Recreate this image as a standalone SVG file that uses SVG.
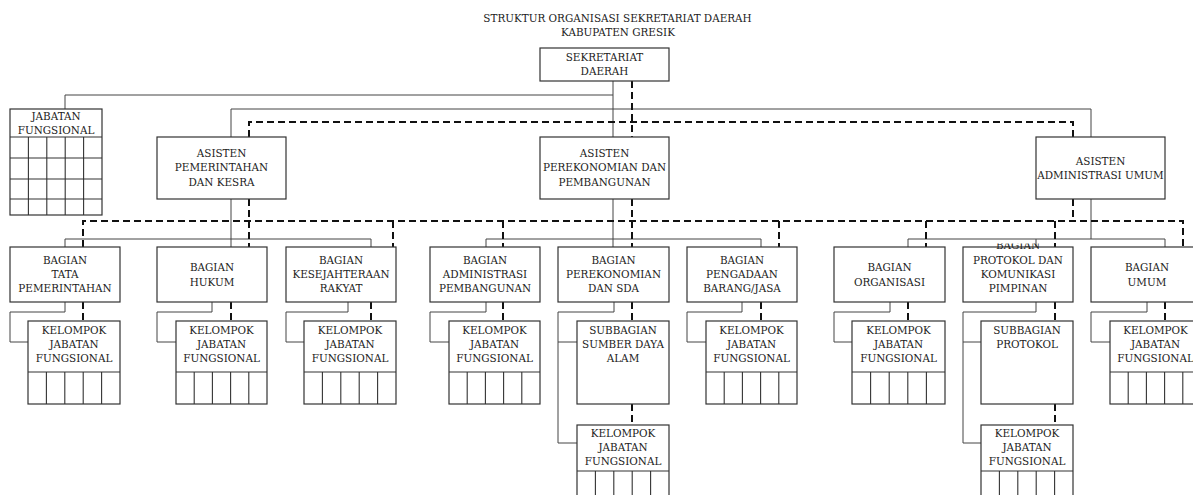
<svg xmlns="http://www.w3.org/2000/svg" width="1193" height="495" viewBox="0 0 1193 495">
<style>
.box{fill:#fff;stroke:#333;stroke-width:1.2}
.grid{fill:none;stroke:#333;stroke-width:1.1}
.ln{fill:none;stroke:#444;stroke-width:1}
.dash{fill:none;stroke:#111;stroke-width:2;stroke-dasharray:7 4}
text{font-family:"DejaVu Serif","Liberation Serif",serif;font-size:10.4px;fill:#222;text-anchor:middle}
</style>
<defs>
<clipPath id="clipProt"><rect x="963" y="243.5" width="110" height="60"/></clipPath>
</defs>
<rect width="1193" height="495" fill="#fff"/>
<g id="title">
<text x="617.5" y="21.5">STRUKTUR ORGANISASI SEKRETARIAT DAERAH</text>
<text x="618" y="35.5">KABUPATEN GRESIK</text>
</g>
<g id="connectors">
<path class="ln" d="M613,81V137M65,109V95H613M231,137V109H1091V137"/>
<path class="ln" d="M231,199V247M65,247V239H371V247M613,199V247M486,247V239H761V247M1091,199V239M908,247V239H1165V247M1036,239V247"/>
<path class="ln" d="M65,302V312H10V342H28M212,302V312H157V342H176M348,302V312H286V342H304M486,302V312H430V342H449M614,302V312H558V443H577M558,342H577M742,302V312H687V342H706M890,302V312H834V342H852M1036,302V312H963V443H981M963,342H981M1147,302V312H1091V342H1110"/>
<path class="dash" d="M632,81V137M249,137V122H1073V137"/>
<path class="dash" d="M249,199V247M632,199V247M1073,199V221M83,247V221H1183V247M393,221V247M503,221V247M779,221V247M926,221V247M1055,221V247"/>
<path class="dash" d="M83,302V321M231,302V321M371,302V321M503,302V321M632,302V321M761,302V321M908,302V321M1055,302V321M1165,302V321M632,404V425M1055,404V425"/>
</g>
<g id="sekretariat-daerah">
<rect class="box" x="540" y="48" width="129" height="33"/>
<text x="604.5" y="61.4">SEKRETARIAT</text>
<text x="604.5" y="75.4">DAERAH</text>
</g>
<g id="jabatan-fungsional">
<rect class="box" x="10" y="109" width="92" height="106"/>
<path class="grid" d="M10,137H102M10,158H102M10,179H102M10,199H102M28.4,137V215M46.8,137V215M65.2,137V215M83.6,137V215"/>
<text x="56" y="120.4">JABATAN</text>
<text x="56" y="134.4">FUNGSIONAL</text>
</g>
<g id="asisten-pemerintahan">
<rect class="box" x="157" y="137" width="129" height="62"/>
<text x="221.5" y="157">ASISTEN</text>
<text x="221.5" y="171.4">PEMERINTAHAN</text>
<text x="221.5" y="185.7">DAN KESRA</text>
</g>
<g id="asisten-perekonomian">
<rect class="box" x="540" y="137" width="129" height="62"/>
<text x="604.5" y="157">ASISTEN</text>
<text x="604.5" y="171.4">PEREKONOMIAN DAN</text>
<text x="604.5" y="185.7">PEMBANGUNAN</text>
</g>
<g id="asisten-administrasi">
<rect class="box" x="1036" y="137" width="129" height="62"/>
<text x="1100.5" y="164.7">ASISTEN</text>
<text x="1100.5" y="178.7">ADMINISTRASI UMUM</text>
</g>
<g id="bagian-tata-pemerintahan">
<rect class="box" x="10" y="247" width="110" height="55"/>
<text x="65" y="263.7">BAGIAN</text>
<text x="65" y="278">TATA</text>
<text x="65" y="292.4">PEMERINTAHAN</text>
</g>
<g id="bagian-hukum">
<rect class="box" x="157" y="247" width="110" height="55"/>
<text x="212" y="271">BAGIAN</text>
<text x="212" y="285.7">HUKUM</text>
</g>
<g id="bagian-kesejahteraan">
<rect class="box" x="286" y="247" width="110" height="55"/>
<text x="341" y="263.7">BAGIAN</text>
<text x="341" y="278">KESEJAHTERAAN</text>
<text x="341" y="292.4">RAKYAT</text>
</g>
<g id="bagian-adm-pembangunan">
<rect class="box" x="430" y="247" width="110" height="55"/>
<text x="485" y="263.7">BAGIAN</text>
<text x="485" y="278">ADMINISTRASI</text>
<text x="485" y="292.4">PEMBANGUNAN</text>
</g>
<g id="bagian-perekonomian">
<rect class="box" x="558" y="247" width="111" height="55"/>
<text x="613.5" y="263.7">BAGIAN</text>
<text x="613.5" y="278">PEREKONOMIAN</text>
<text x="613.5" y="292.4">DAN SDA</text>
</g>
<g id="bagian-pengadaan">
<rect class="box" x="687" y="247" width="110" height="55"/>
<text x="742" y="263.7">BAGIAN</text>
<text x="742" y="278">PENGADAAN</text>
<text x="742" y="292.4">BARANG/JASA</text>
</g>
<g id="bagian-organisasi">
<rect class="box" x="834" y="247" width="111" height="55"/>
<text x="889.5" y="271">BAGIAN</text>
<text x="889.5" y="285.7">ORGANISASI</text>
</g>
<g id="bagian-protokol">
<rect class="box" x="963" y="247" width="110" height="55"/>
<text x="1018" y="249.4" clip-path="url(#clipProt)">BAGIAN</text>
<text x="1018" y="263.7">PROTOKOL DAN</text>
<text x="1018" y="278">KOMUNIKASI</text>
<text x="1018" y="292.4">PIMPINAN</text>
</g>
<g id="bagian-umum">
<rect class="box" x="1091" y="247" width="110" height="55"/>
<text x="1147" y="271">BAGIAN</text>
<text x="1147" y="285.7">UMUM</text>
</g>
<g id="kjf-tata">
<rect class="box" x="28" y="321" width="92" height="83"/>
<path class="grid" d="M28,372H120M46.4,372V404M64.8,372V404M83.2,372V404M101.6,372V404"/>
<text x="74" y="333.7">KELOMPOK</text><text x="74" y="348">JABATAN</text><text x="74" y="362.3">FUNGSIONAL</text>
</g>
<g id="kjf-hukum">
<rect class="box" x="176" y="321" width="91" height="83"/>
<path class="grid" d="M176,372H267M194.2,372V404M212.4,372V404M230.6,372V404M248.8,372V404"/>
<text x="221.5" y="333.7">KELOMPOK</text><text x="221.5" y="348">JABATAN</text><text x="221.5" y="362.3">FUNGSIONAL</text>
</g>
<g id="kjf-kesejahteraan">
<rect class="box" x="304" y="321" width="92" height="83"/>
<path class="grid" d="M304,372H396M322.4,372V404M340.8,372V404M359.2,372V404M377.6,372V404"/>
<text x="350" y="333.7">KELOMPOK</text><text x="350" y="348">JABATAN</text><text x="350" y="362.3">FUNGSIONAL</text>
</g>
<g id="kjf-adm-pembangunan">
<rect class="box" x="449" y="321" width="91" height="83"/>
<path class="grid" d="M449,372H540M467.2,372V404M485.4,372V404M503.6,372V404M521.8,372V404"/>
<text x="494.5" y="333.7">KELOMPOK</text><text x="494.5" y="348">JABATAN</text><text x="494.5" y="362.3">FUNGSIONAL</text>
</g>
<g id="subbagian-sda">
<rect class="box" x="577" y="321" width="92" height="83"/>
<text x="623" y="333.7">SUBBAGIAN</text><text x="623" y="348">SUMBER DAYA</text><text x="623" y="362.3">ALAM</text>
</g>
<g id="kjf-perekonomian">
<rect class="box" x="577" y="425" width="92" height="85"/>
<path class="grid" d="M577,471H669M595.4,471V510M613.8,471V510M632.2,471V510M650.6,471V510"/>
<text x="623" y="437">KELOMPOK</text><text x="623" y="451">JABATAN</text><text x="623" y="465.4">FUNGSIONAL</text>
</g>
<g id="kjf-pengadaan">
<rect class="box" x="706" y="321" width="91" height="83"/>
<path class="grid" d="M706,372H797M724.2,372V404M742.4,372V404M760.6,372V404M778.8,372V404"/>
<text x="751.5" y="333.7">KELOMPOK</text><text x="751.5" y="348">JABATAN</text><text x="751.5" y="362.3">FUNGSIONAL</text>
</g>
<g id="kjf-organisasi">
<rect class="box" x="852" y="321" width="93" height="83"/>
<path class="grid" d="M852,372H945M870.6,372V404M889.2,372V404M907.8,372V404M926.4,372V404"/>
<text x="898.5" y="333.7">KELOMPOK</text><text x="898.5" y="348">JABATAN</text><text x="898.5" y="362.3">FUNGSIONAL</text>
</g>
<g id="subbagian-protokol">
<rect class="box" x="981" y="321" width="92" height="83"/>
<text x="1027" y="333.7">SUBBAGIAN</text><text x="1027" y="348">PROTOKOL</text>
</g>
<g id="kjf-protokol">
<rect class="box" x="981" y="425" width="92" height="85"/>
<path class="grid" d="M981,471H1073M999.4,471V510M1017.8,471V510M1036.2,471V510M1054.6,471V510"/>
<text x="1027" y="437">KELOMPOK</text><text x="1027" y="451">JABATAN</text><text x="1027" y="465.4">FUNGSIONAL</text>
</g>
<g id="kjf-umum">
<rect class="box" x="1110" y="321" width="91" height="83"/>
<path class="grid" d="M1110,372H1201M1128.2,372V404M1146.4,372V404M1164.6,372V404M1182.8,372V404"/>
<text x="1155.5" y="333.7">KELOMPOK</text><text x="1155.5" y="348">JABATAN</text><text x="1155.5" y="362.3">FUNGSIONAL</text>
</g>
</svg>
